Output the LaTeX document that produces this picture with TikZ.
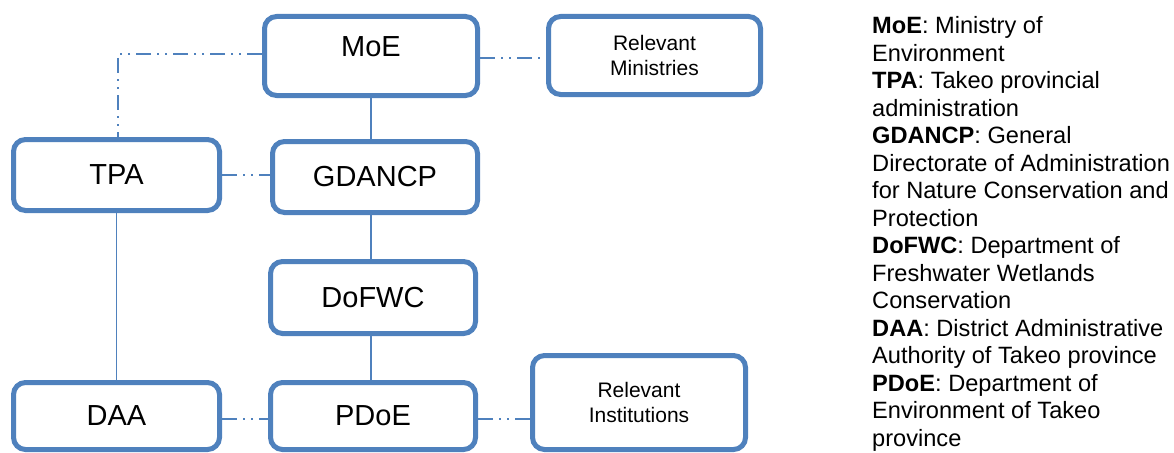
\documentclass[tikz,border=0pt]{standalone}
\usepackage{fontspec}
\setmainfont{Liberation Sans}
\usepackage{xcolor}
\definecolor{orgblue}{HTML}{4F81BD}

\begin{document}
\begin{tikzpicture}[x=1pt, y=-1pt,
    unit/.style={draw=orgblue, line width=5pt, rounded corners=12pt, fill=white,
        inner sep=0pt, font=\fontsize{29}{33}\selectfont},
    minor/.style={unit, align=center, font=\fontsize{21}{25}\selectfont},
    solidlink/.style={orgblue, line width=1.5pt},
    dotlink/.style={orgblue, line width=1.5pt,
        dash pattern=on 15pt off 6pt on 2pt off 6pt on 2pt off 6pt}]
    \useasboundingbox (0,0) rectangle (1174,452);

    % Ministry level
    \node[unit, minimum width=213pt, minimum height=79pt, text height=21pt, text depth=20pt] (moe) at (371,56) {MoE};
    \node[minor, minimum width=212pt, minimum height=78pt] (relmin) at (654.5,55.5) {Relevant\\Ministries};

    % Provincial / general directorate level
    \node[unit, minimum width=206pt, minimum height=71pt] (tpa) at (116.5,175) {TPA};
    \node[unit, minimum width=205pt, minimum height=71pt] (gdancp) at (375,177) {GDANCP};

    % Department level
    \node[unit, minimum width=205pt, minimum height=72pt] (dofwc) at (373,297.5) {DoFWC};

    % District level
    \node[unit, minimum width=206pt, minimum height=67pt] (daa) at (116.5,416) {DAA};
    \node[unit, minimum width=205pt, minimum height=67pt] (pdoe) at (373,416) {PDoE};
    \node[minor, minimum width=213pt, minimum height=94pt] (relinst) at (639,402.5) {Relevant\\Institutions};

    % Solid links
    \draw[solidlink] (moe.south) -- (moe.south |- gdancp.north);
    \draw[solidlink] (moe.south |- gdancp.south) -- (moe.south |- dofwc.north);
    \draw[solidlink] (moe.south |- dofwc.south) -- (moe.south |- pdoe.north);
    \draw[solidlink] (tpa.south) -- (daa.north);

    % Dash-dot links
    \draw[dotlink] ([yshift=2pt]moe.west) -| ([xshift=1.5pt]tpa.north);
    \draw[dotlink] (tpa.east) -- (tpa.east -| gdancp.west);
    \draw[dotlink] ([yshift=-2pt]moe.east) -- ([yshift=-2pt]moe.east -| relmin.west);
    \draw[dotlink] ([yshift=-3pt]daa.east) -- ([yshift=-3pt]daa.east -| pdoe.west);
    \draw[dotlink] ([yshift=-3pt]pdoe.east) -- ([yshift=-3pt]pdoe.east -| relinst.west);

    % Legend
    \node[anchor=north west, align=left, inner sep=0pt, font=\fontsize{23.6}{27.5}\selectfont] (legend) at (872,16.5)
        {\textbf{MoE}: Ministry of\\
         Environment\\
         \textbf{TPA}: Takeo provincial\\
         administration\\
         \textbf{GDANCP}: General\\
         Directorate of Administration\\
         for Nature Conservation and\\
         Protection\\
         \textbf{DoFWC}: Department of\\
         Freshwater Wetlands\\
         Conservation\\
         \textbf{DAA}: District Administrative\\
         Authority of Takeo province\\
         \textbf{PDoE}: Department of\\
         Environment of Takeo\\
         province};
\end{tikzpicture}
\end{document}
